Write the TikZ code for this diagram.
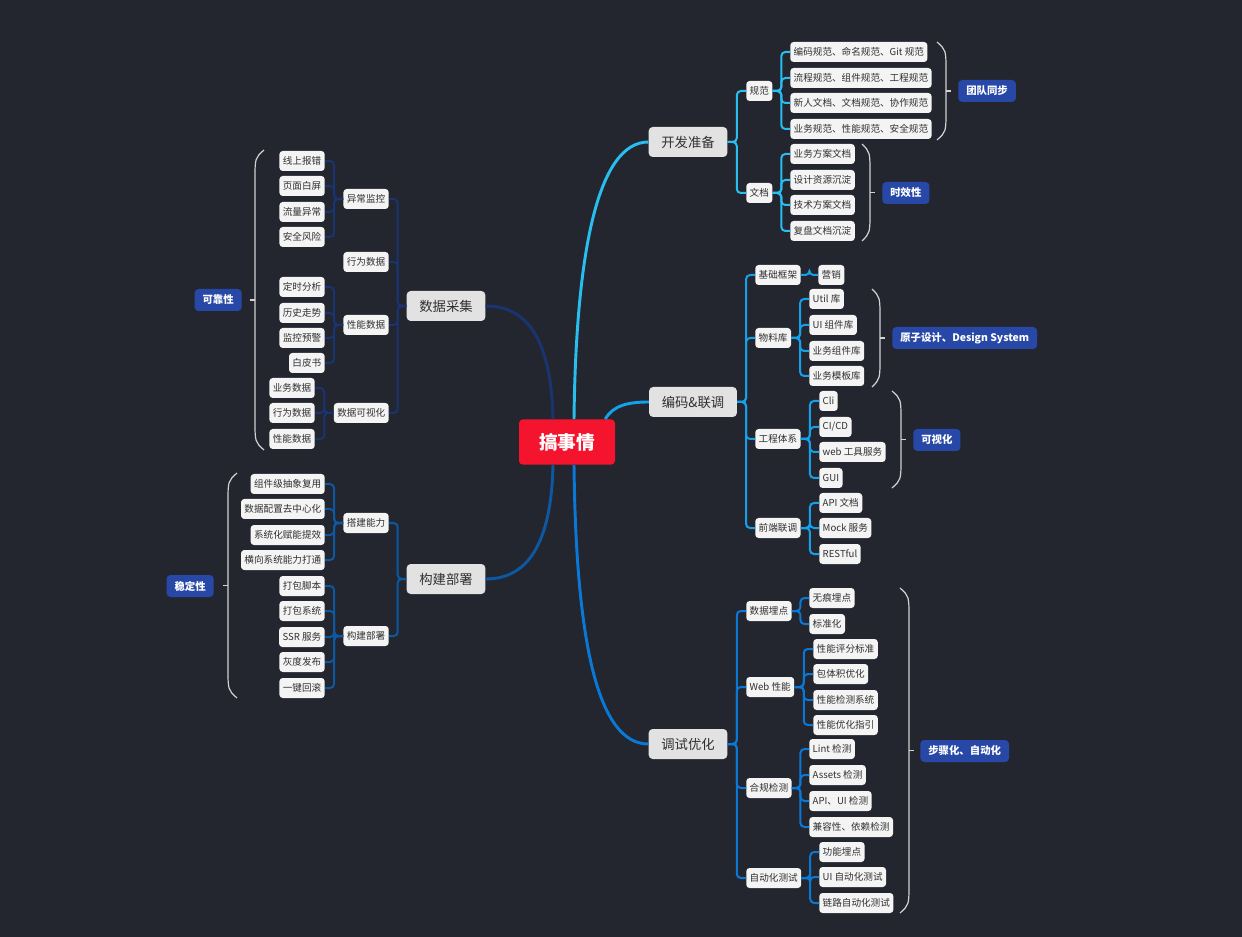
\documentclass[tikz,border=0pt]{standalone}
\usepackage{fontspec}
\setmainfont{Noto Sans CJK SC}
\usetikzlibrary{calc}

\definecolor{bgc}{RGB}{35,38,46}
\definecolor{leaffill}{RGB}{244,244,244}
\definecolor{topicfill}{RGB}{226,226,226}
\definecolor{txt}{RGB}{48,48,48}
\definecolor{rootred}{RGB}{245,20,45}
\definecolor{tagblue}{RGB}{40,72,168}
\definecolor{brcol}{RGB}{210,210,210}
\definecolor{cKF}{RGB}{40,190,240}
\definecolor{cBM}{RGB}{20,160,235}
\definecolor{cTS}{RGB}{10,120,215}
\definecolor{cSJ}{RGB}{25,52,112}
\definecolor{cGJ}{RGB}{12,88,162}

\tikzset{
  leaf/.style={fill=leaffill, text=txt, rounded corners=2.5pt, inner xsep=2.6pt, inner ysep=0pt,
    minimum height=15pt, font=\fontsize{7.2}{9}\selectfont},
  topic/.style={fill=topicfill, text=txt, rounded corners=3pt, inner xsep=9.5pt, inner ysep=0pt,
    minimum height=22.5pt, font=\fontsize{10}{12}\selectfont},
  root/.style={fill=rootred, text=white, rounded corners=3pt, minimum width=72pt,
    minimum height=34pt, font=\bfseries\fontsize{14}{16}\selectfont},
  tag/.style={fill=tagblue, text=white, rounded corners=3pt, inner xsep=6pt, inner ysep=0pt,
    minimum height=16.5pt, font=\bfseries\fontsize{7.8}{10}\selectfont},
  elb/.style={rounded corners=3pt, line width=1.5pt},
  trunk/.style={line width=2.2pt},
  brc/.style={draw=brcol, line width=0.9pt},
}

\begin{document}
\begin{tikzpicture}[x=0.75pt,y=-0.75pt]
  \fill[bgc] (0,0) rectangle (1242,937);
  \useasboundingbox (0,0) rectangle (1242,937);

  % root and main topics
  \node[root] (ctr) at (567,442) {搞事情};
  \node[topic] (kf) at (688,142) {开发准备};
  \node[topic] (bm) at (693,402) {编码\&联调};
  \node[topic] (ts) at (688,744) {调试优化};
  \node[topic] (sj) at (446,306) {数据采集};
  \node[topic] (gj) at (446,579) {构建部署};

  % 开发准备
  \node[leaf,anchor=west] (gf) at (746,91) {规范};
  \node[leaf,anchor=west] (wd) at (746,193) {文档};
  \node[leaf,anchor=west] (gf1) at (790,52) {编码规范、命名规范、Git 规范};
  \node[leaf,anchor=west] (gf2) at (790,78) {流程规范、组件规范、工程规范};
  \node[leaf,anchor=west] (gf3) at (790,103) {新人文档、文档规范、协作规范};
  \node[leaf,anchor=west] (gf4) at (790,129) {业务规范、性能规范、安全规范};
  \node[leaf,anchor=west] (wd1) at (790,154) {业务方案文档};
  \node[leaf,anchor=west] (wd2) at (790,180) {设计资源沉淀};
  \node[leaf,anchor=west] (wd3) at (790,205) {技术方案文档};
  \node[leaf,anchor=west] (wd4) at (790,231) {复盘文档沉淀};

  % 编码&联调
  \node[leaf,anchor=west] (jc) at (755,275) {基础框架};
  \node[leaf,anchor=west] (wl) at (755,338) {物料库};
  \node[leaf,anchor=west] (gc) at (755,439) {工程体系};
  \node[leaf,anchor=west] (qd) at (755,528) {前端联调};
  \node[leaf,anchor=west] (yx) at (818,275) {营销};
  \node[leaf,anchor=west] (wl1) at (809,299) {Util 库};
  \node[leaf,anchor=west] (wl2) at (809,325) {UI 组件库};
  \node[leaf,anchor=west] (wl3) at (809,351) {业务组件库};
  \node[leaf,anchor=west] (wl4) at (809,376) {业务模板库};
  \node[leaf,anchor=west] (gc1) at (819,401) {Cli};
  \node[leaf,anchor=west] (gc2) at (819,427) {CI/CD};
  \node[leaf,anchor=west] (gc3) at (819,452) {web 工具服务};
  \node[leaf,anchor=west] (gc4) at (819,478) {GUI};
  \node[leaf,anchor=west] (qd1) at (819,503) {API 文档};
  \node[leaf,anchor=west] (qd2) at (819,528) {Mock 服务};
  \node[leaf,anchor=west] (qd3) at (819,554) {RESTful};

  % 调试优化
  \node[leaf,anchor=west] (md) at (746,611) {数据埋点};
  \node[leaf,anchor=west] (xn) at (746,687) {Web 性能};
  \node[leaf,anchor=west] (hg) at (746,788) {合规检测};
  \node[leaf,anchor=west] (zd) at (746,878) {自动化测试};
  \node[leaf,anchor=west] (md1) at (809,598) {无痕埋点};
  \node[leaf,anchor=west] (md2) at (809,624) {标准化};
  \node[leaf,anchor=west] (xn1) at (813,649) {性能评分标准};
  \node[leaf,anchor=west] (xn2) at (813,674) {包体积优化};
  \node[leaf,anchor=west] (xn3) at (813,700) {性能检测系统};
  \node[leaf,anchor=west] (xn4) at (813,725) {性能优化指引};
  \node[leaf,anchor=west] (hg1) at (809,749) {Lint 检测};
  \node[leaf,anchor=west] (hg2) at (809,775) {Assets 检测};
  \node[leaf,anchor=west] (hg3) at (809,801) {API、UI 检测};
  \node[leaf,anchor=west] (hg4) at (809,827) {兼容性、依赖检测};
  \node[leaf,anchor=west] (zd1) at (819,852) {功能埋点};
  \node[leaf,anchor=west] (zd2) at (819,877) {UI 自动化测试};
  \node[leaf,anchor=west] (zd3) at (819,903) {链路自动化测试};

  % 数据采集
  \node[leaf,anchor=east] (yc) at (389,199) {异常监控};
  \node[leaf,anchor=east] (xw) at (389,262) {行为数据};
  \node[leaf,anchor=east] (xs) at (389,325) {性能数据};
  \node[leaf,anchor=east] (ks) at (389,413) {数据可视化};
  \node[leaf,anchor=east] (yc1) at (325,161) {线上报错};
  \node[leaf,anchor=east] (yc2) at (325,186) {页面白屏};
  \node[leaf,anchor=east] (yc3) at (325,212) {流量异常};
  \node[leaf,anchor=east] (yc4) at (325,237) {安全风险};
  \node[leaf,anchor=east] (xs1) at (325,287) {定时分析};
  \node[leaf,anchor=east] (xs2) at (325,313) {历史走势};
  \node[leaf,anchor=east] (xs3) at (325,338) {监控预警};
  \node[leaf,anchor=east] (xs4) at (325,363) {白皮书};
  \node[leaf,anchor=east] (ks1) at (315,388) {业务数据};
  \node[leaf,anchor=east] (ks2) at (315,413) {行为数据};
  \node[leaf,anchor=east] (ks3) at (315,439) {性能数据};

  % 构建部署
  \node[leaf,anchor=east] (dj) at (389,523) {搭建能力};
  \node[leaf,anchor=east] (bs) at (389,636) {构建部署};
  \node[leaf,anchor=east] (dj1) at (325,484) {组件级抽象复用};
  \node[leaf,anchor=east] (dj2) at (325,509) {数据配置去中心化};
  \node[leaf,anchor=east] (dj3) at (325,535) {系统化赋能提效};
  \node[leaf,anchor=east] (dj4) at (325,560) {横向系统能力打通};
  \node[leaf,anchor=east] (bs1) at (325,586) {打包脚本};
  \node[leaf,anchor=east] (bs2) at (325,611) {打包系统};
  \node[leaf,anchor=east] (bs3) at (325,637) {SSR 服务};
  \node[leaf,anchor=east] (bs4) at (325,662) {灰度发布};
  \node[leaf,anchor=east] (bs5) at (325,688) {一键回滚};

  % summary tags
  \node[tag,anchor=west] (tdtb) at (958,91) {团队同步};
  \node[tag,anchor=west] (sxx) at (882,193) {时效性};
  \node[tag,anchor=west] (yzsj) at (892,338) {原子设计、Design System};
  \node[tag,anchor=west] (ksh) at (913,440) {可视化};
  \node[tag,anchor=west] (bzh) at (920,751) {步骤化、自动化};
  \node[tag,anchor=east] (kkx) at (242,300) {可靠性};
  \node[tag,anchor=east] (wdx) at (214,586) {稳定性};

  % trunks from root
  \draw[trunk,cKF] ($(ctr.north)+(7,0)$) .. controls +(2,-170) and +(-50,0) .. (kf.west);
  \draw[trunk,cBM] ($(ctr.north east)+(-10,0)$) .. controls +(8,-14) and +(-20,0) .. (bm.west);
  \draw[trunk,cTS] ($(ctr.south)+(7,0)$) .. controls +(2,180) and +(-50,0) .. (ts.west);
  \draw[trunk,cSJ] ($(ctr.north)+(-14,0)$) .. controls +(-2,-90) and +(35,0) .. (sj.east);
  \draw[trunk,cGJ] ($(ctr.south)+(-14,0)$) .. controls +(-2,90) and +(35,0) .. (gj.east);

  % right side elbows
  \foreach \p/\cs/\cl in {kf/{gf,wd}/cKF, gf/{gf1,gf2,gf3,gf4}/cKF, wd/{wd1,wd2,wd3,wd4}/cKF,
      bm/{jc,wl,gc,qd}/cBM, jc/{yx}/cBM, wl/{wl1,wl2,wl3,wl4}/cBM, gc/{gc1,gc2,gc3,gc4}/cBM,
      qd/{qd1,qd2,qd3}/cBM, ts/{md,xn,hg,zd}/cTS, md/{md1,md2}/cTS, xn/{xn1,xn2,xn3,xn4}/cTS,
      hg/{hg1,hg2,hg3,hg4}/cTS, zd/{zd1,zd2,zd3}/cTS}
    \foreach \c in \cs
      \draw[elb,\cl] (\p.east) -- ($(\p.east)!.5!(\p.east -| \c.west)$) |- (\c.west);

  % left side elbows
  \foreach \p/\cs/\cl in {sj/{yc,xw,xs,ks}/cSJ, yc/{yc1,yc2,yc3,yc4}/cSJ, xs/{xs1,xs2,xs3,xs4}/cSJ,
      ks/{ks1,ks2,ks3}/cSJ, gj/{dj,bs}/cGJ, dj/{dj1,dj2,dj3,dj4}/cGJ, bs/{bs1,bs2,bs3,bs4,bs5}/cGJ}
    \foreach \c in \cs
      \draw[elb,\cl] (\p.west) -- ($(\p.west)!.5!(\p.west -| \c.east)$) |- (\c.east);

  % summary braces
  \foreach \x/\t/\b/\w/\tk in {937/42/140/9/5, 862/144/241/8/5, 872/289/387/8/5,
      892/391/488/9/5, 900/588/913/9/5, 264/150/450/-9/-5, 237/473/698/-9/-5}{
    \pgfmathsetmacro\m{(\t+\b)/2}
    \draw[brc] (\x,\t) .. controls ({\x+(\w)},\t+8) .. ({\x+(\w)},\t+30)
      -- ({\x+(\w)},\b-30) .. controls ({\x+(\w)},\b-8) .. (\x,\b);
    \draw[brc] ({\x+(\w)},\m) -- ++(\tk,0);
  }
\end{tikzpicture}
\end{document}
